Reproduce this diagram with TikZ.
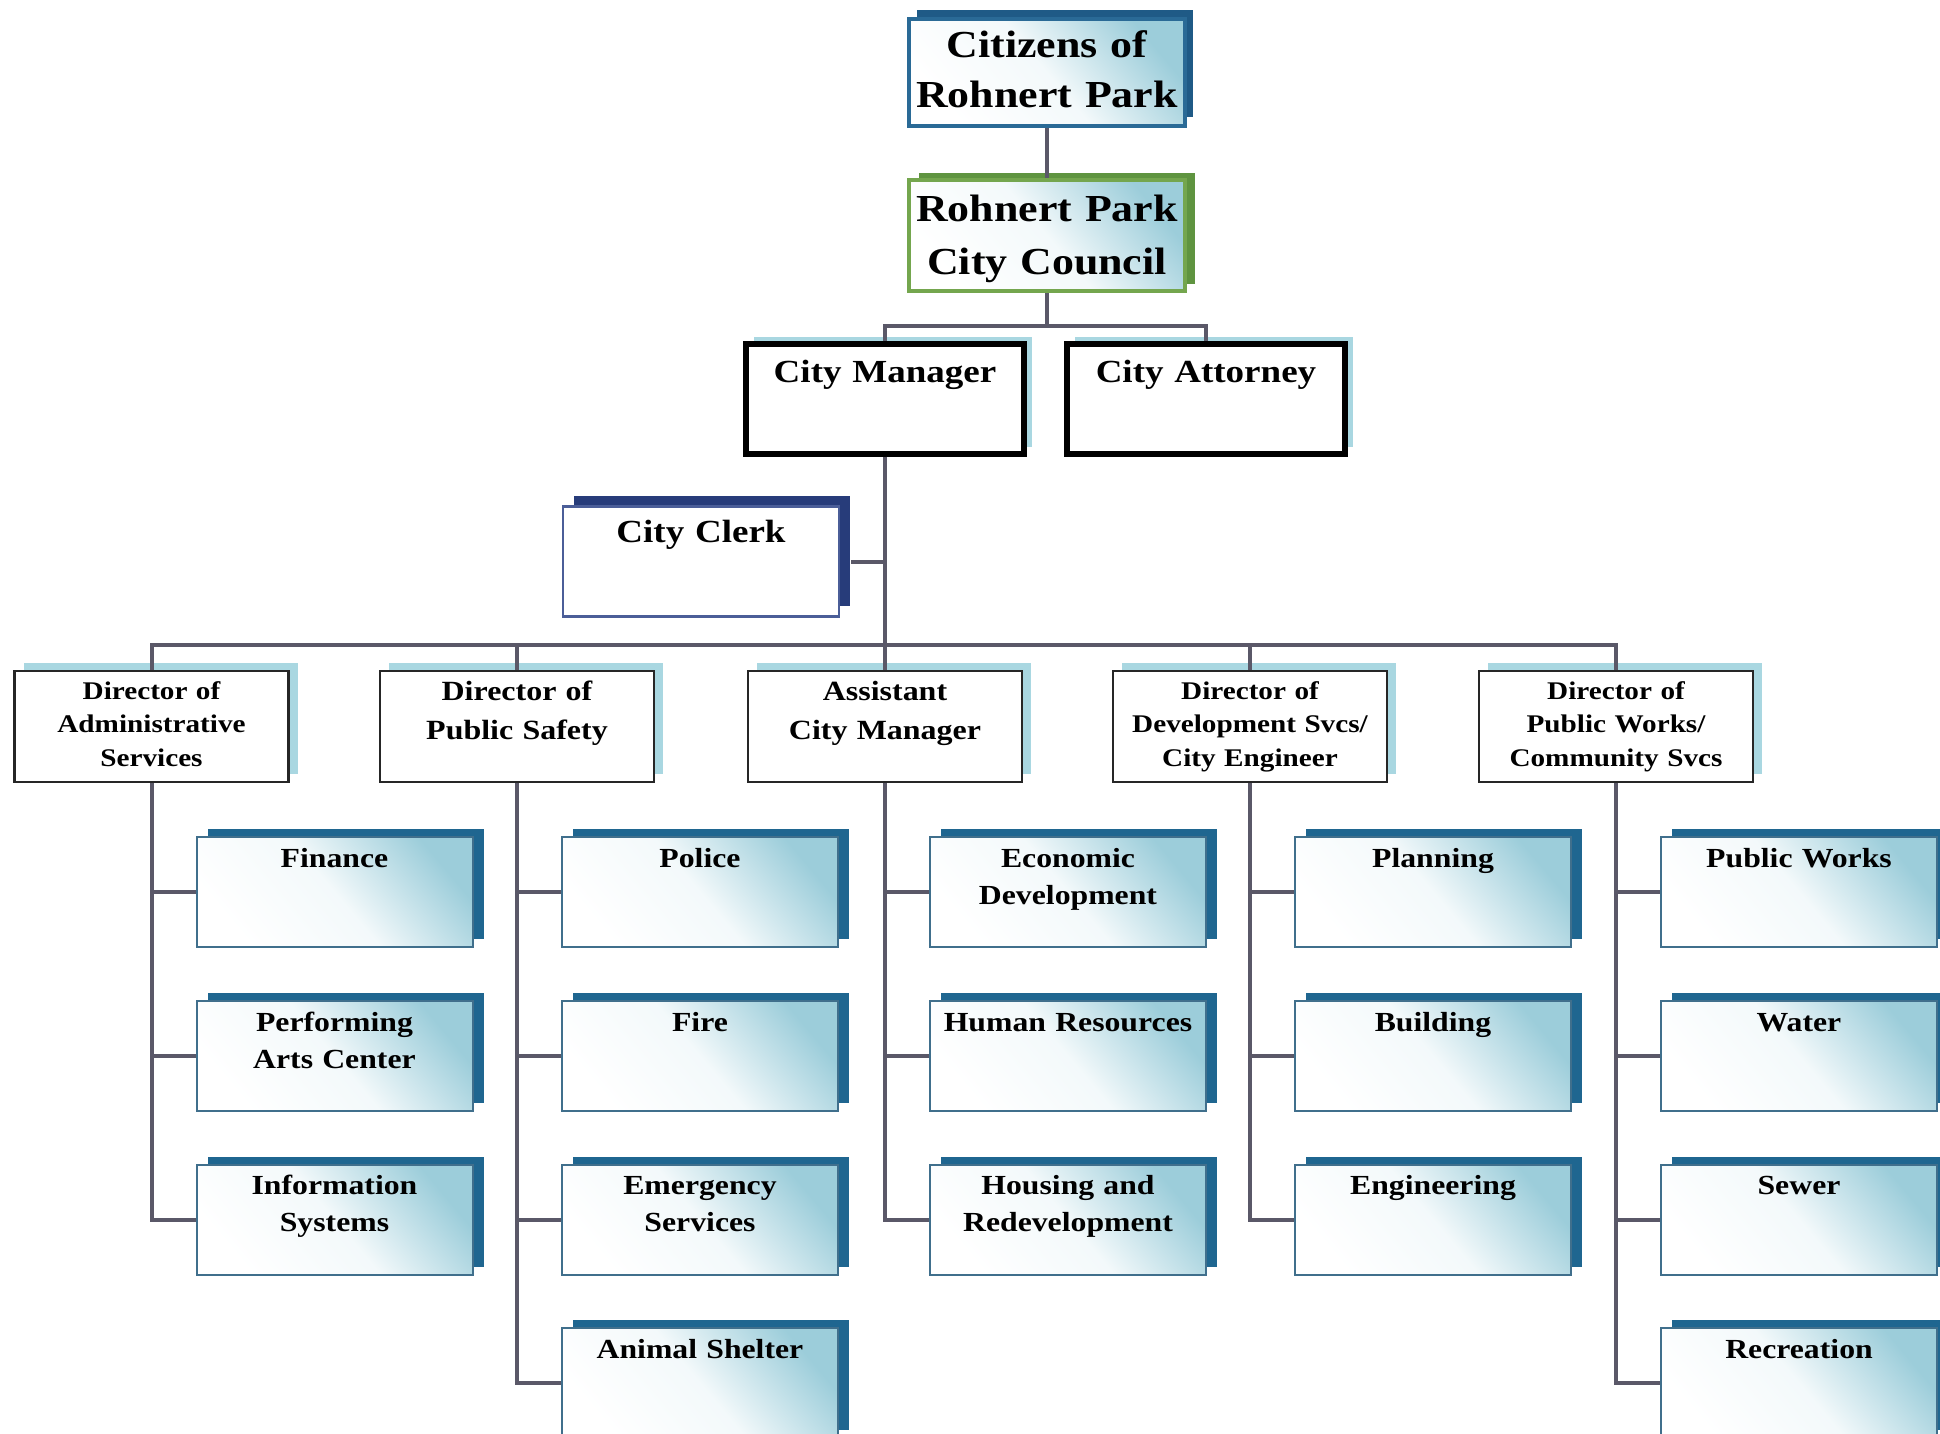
\documentclass[tikz,border=0pt]{standalone}
\usepackage{fontspec}
\setmainfont{Liberation Serif}[FakeStretch=1.15]
\usepackage{tikz}
\usetikzlibrary{shadows}

\definecolor{linkgray}{HTML}{5A5868}
\definecolor{citzblue}{HTML}{2A6A96}
\definecolor{citzshade}{HTML}{1F5A86}
\definecolor{cncgreen}{HTML}{74A64E}
\definecolor{cncshade}{HTML}{5F9440}
\definecolor{paleblue}{HTML}{A9D7E1}
\definecolor{clerkline}{HTML}{4B5E98}
\definecolor{clerkshade}{HTML}{273C7A}
\definecolor{kidline}{HTML}{406F8C}
\definecolor{kidshade}{HTML}{1F6690}
\definecolor{kidfill}{HTML}{9CCDDA}

\begin{document}
\begin{tikzpicture}[x=0.5pt,y=-0.5pt,
	box/.style={rectangle,inner sep=0pt,align=center,text width=138pt},
	shaded/.style={top color=kidfill,bottom color=white,middle color=kidfill!12,shading angle=-50},
	link/.style={draw=linkgray,line width=2pt},
	topbox/.style={box,shaded,line width=2.2pt,font=\fontsize{19.1}{25}\selectfont\bfseries},
	citzbox/.style={topbox,draw=citzblue,text height=19.25pt,text depth=34.25pt,
		general shadow={fill=citzshade,shadow xshift=4pt,shadow yshift=4.5pt}},
	cncbox/.style={topbox,draw=cncgreen,text height=20.5pt,text depth=35pt,
		font=\fontsize{19.1}{26.5}\selectfont\bfseries,
		general shadow={fill=cncshade,shadow xshift=5pt,shadow yshift=3.5pt}},
	mgrbox/.style={box,draw=black,fill=white,line width=2.6pt,text width=139pt,
		text height=19pt,text depth=36pt,font=\fontsize{16.1}{20}\selectfont\bfseries,
		general shadow={fill=paleblue,shadow xshift=4pt,shadow yshift=3.5pt}},
	clerkbox/.style={box,draw=clerkline,fill=white,line width=1.2pt,
		text height=18pt,text depth=37pt,font=\fontsize{16.1}{20}\selectfont\bfseries,
		general shadow={fill=clerkshade,shadow xshift=5.5pt,shadow yshift=5.5pt}},
	dirbox/.style={box,draw=black!85,fill=white,line width=1.3pt,text width=137pt,
		text height=14pt,text depth=41.5pt,font=\fontsize{12.7}{16.75}\selectfont\bfseries,
		general shadow={fill=paleblue,shadow xshift=4.5pt,shadow yshift=4pt}},
	dirbig/.style={dirbox,text height=14.5pt,text depth=41pt,font=\fontsize{13.9}{19.5}\selectfont\bfseries},
	kidbox/.style={box,shaded,draw=kidline,line width=1pt,
		text height=15pt,text depth=40pt,font=\fontsize{13.8}{18.5}\selectfont\bfseries,
		general shadow={fill=kidshade,shadow xshift=5.5pt,shadow yshift=4pt}},
	]
	\useasboundingbox (0,0) rectangle (1940,1434);
	\clip (0,0) rectangle (1940,1434);
	\fill[white] (0,0) rectangle (1940,1434);

	% top of the chart
	\node[citzbox] (citz) at (1047,72.5) {Citizens of\\Rohnert Park};
	\node[cncbox] (council) at (1047,235.5) {Rohnert Park\\City Council};
	\node[mgrbox] (mgr) at (885,399) {City Manager};
	\node[mgrbox] (atty) at (1206,399) {City Attorney};
	\node[clerkbox] (clerk) at (701,561.5) {City Clerk};

	% directors
	\node[dirbox] (das) at (151.5,726.5) {Director of\\Administrative\\Services};
	\node[dirbig] (dps) at (517,726.5) {Director of\\Public Safety};
	\node[dirbig] (acm) at (885,726.5) {Assistant\\City Manager};
	\node[dirbox] (dds) at (1250,726.5) {Director of\\Development Svcs/\\City Engineer};
	\node[dirbox] (dpw) at (1616,726.5) {Director of\\Public Works/\\Community Svcs};

	% departments
	\node[kidbox] (fin) at (334.5,892) {Finance};
	\node[kidbox] (pac) at (334.5,1056) {Performing\\Arts Center};
	\node[kidbox] (its) at (334.5,1219.5) {Information\\Systems};
	\node[kidbox] (pol) at (700,892) {Police};
	\node[kidbox] (fire) at (700,1056) {Fire};
	\node[kidbox] (ems) at (700,1219.5) {Emergency\\Services};
	\node[kidbox] (anim) at (700,1383) {Animal Shelter};
	\node[kidbox] (econ) at (1068,892) {Economic\\Development};
	\node[kidbox] (hr) at (1068,1056) {Human Resources};
	\node[kidbox] (hsg) at (1068,1219.5) {Housing and\\Redevelopment};
	\node[kidbox] (plan) at (1433,892) {Planning};
	\node[kidbox] (bldg) at (1433,1056) {Building};
	\node[kidbox] (eng) at (1433,1219.5) {Engineering};
	\node[kidbox] (pw) at (1799,892) {Public Works};
	\node[kidbox] (wat) at (1799,1056) {Water};
	\node[kidbox] (sew) at (1799,1219.5) {Sewer};
	\node[kidbox] (rec) at (1799,1383) {Recreation};

	% connectors
	\draw[link] (citz.south) -- (council.north);
	\draw[link] (council.south) -- ++(0,33) coordinate (cbar);
	\draw[link] (mgr.north) |- (cbar) -| (atty.north);
	\draw[link] (mgr.south) -- (acm.north);
	\draw[link] ([xshift=5.5pt]clerk.east) -- (clerk.east -| mgr.south);
	\draw[link] (das.north) -- ++(0,-25) coordinate (dbar) -| (dpw.north);
	\draw[link] (dps.north) -- (dps.north |- dbar);
	\draw[link] (dds.north) -- (dds.north |- dbar);
	\foreach \d/\k in {das/fin,das/pac,das/its,dps/pol,dps/fire,dps/ems,dps/anim,
		acm/econ,acm/hr,acm/hsg,dds/plan,dds/bldg,dds/eng,dpw/pw,dpw/wat,dpw/sew,dpw/rec}
		\draw[link] (\d.south) |- (\k.west);
\end{tikzpicture}
\end{document}
